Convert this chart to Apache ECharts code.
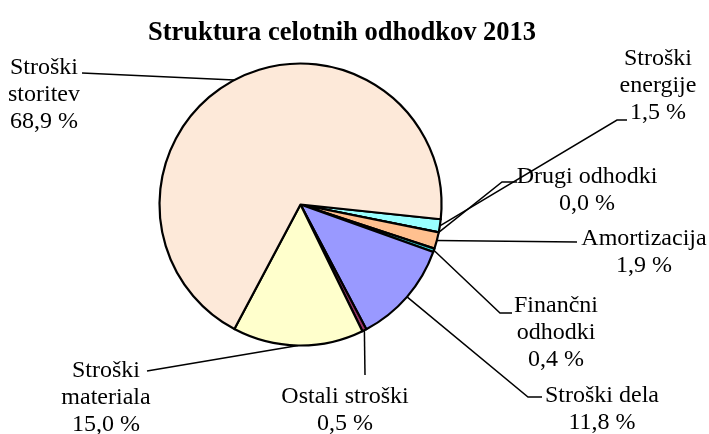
<!DOCTYPE html>
<html>
<head>
<meta charset="utf-8">
<script src="https://cdn.jsdelivr.net/npm/echarts@6/dist/echarts.min.js"></script>
<style>html,body{margin:0;padding:0;background:#fff;}#c{width:709px;height:434px;}</style>
</head>
<body>
<div id="c"></div>
<script>
// ---- data ----
var categories = ['Stroški\nenergije', 'Drugi odhodki', 'Amortizacija', 'Finančni\nodhodki', 'Stroški dela', 'Ostali stroški', 'Stroški\nmateriala', 'Stroški\nstoritev'];
var values = [1.5, 0.0, 1.9, 0.4, 11.8, 0.5, 15.0, 68.9];
var titleText = 'Struktura celotnih odhodkov 2013';

// ---- styles / layout ----
var colors = ['#99FFFF', '#FFFFFF', '#FFC08F', '#33CCCC', '#9999FF', '#993366', '#FFFFCC', '#FDE9D9'];
var labelCenter = [[658, 86], [587, 190], [644, 252], [556, 333], [602, 409], [345, 410], [106, 398], [44, 95]];
var leaderBend = [[[617, 120], [627, 120]], [[502, 182], [517, 182]], [[577, 242]], [[500, 313], [512, 313]], [[528, 397], [542, 397]], [[365, 375]], [[147, 371]], [[82, 73]]];

var chart = echarts.init(document.getElementById('c'), null, {renderer: 'canvas'});
var data = categories.map(function (c, i) {
  return {name: c, value: values[i], itemStyle: {color: colors[i]}};
});
chart.setOption({
  animation: false,
  backgroundColor: '#fff',
  title: {
    text: titleText, left: 337, top: 15, textAlign: 'center',
    textStyle: {fontFamily: 'Liberation Serif', fontWeight: 'bold', fontSize: 26.5, color: '#000'}
  },
  series: [{
    type: 'pie',
    center: [300.5, 204.5],
    radius: 141,
    startAngle: -6,
    clockwise: true,
    avoidLabelOverlap: false,
    stillShowZeroSum: true,
    data: data,
    itemStyle: {borderColor: '#000', borderWidth: 2.2},
    emphasis: {disabled: true},
    label: {
      show: true,
      position: 'outside',
      fontFamily: 'Liberation Serif',
      fontSize: 24,
      lineHeight: 27,
      color: '#000',
      align: 'center',
      formatter: function (p) {
        return p.name + '\n' + p.value.toFixed(1).replace('.', ',') + ' %';
      }
    },
    labelLine: {show: true, length: 10, length2: 10, lineStyle: {color: '#000', width: 1.5}},
    labelLayout: function (p) {
      var i = p.dataIndex;
      var pts = [p.labelLinePoints ? p.labelLinePoints[0] : [0, 0]].concat(leaderBend[i]);
      return {
        x: labelCenter[i][0], y: labelCenter[i][1],
        align: 'center', verticalAlign: 'middle',
        labelLinePoints: pts
      };
    }
  }]
});
</script>
</body>
</html>
